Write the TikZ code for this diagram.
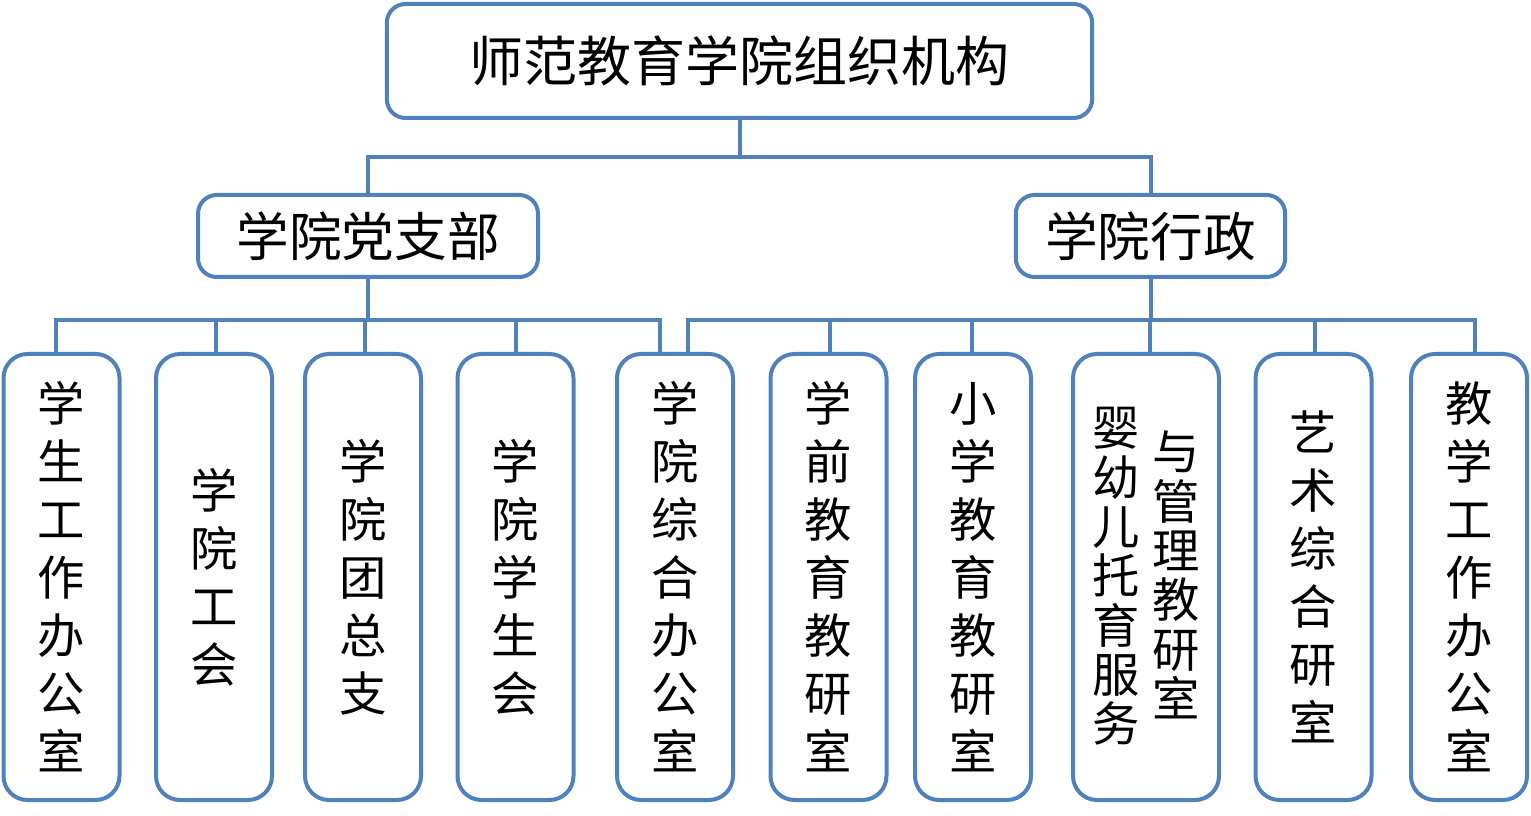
\documentclass[tikz,border=0pt]{standalone}
\usepackage{fontspec}
\newfontfamily\cjk{Noto Sans CJK SC}
\usetikzlibrary{positioning,calc}
\definecolor{orgblue}{RGB}{79,129,189}

\begin{document}
\begin{tikzpicture}[x=.75pt,y=-.75pt,
	box/.style={draw=orgblue, line width=3pt, rounded corners=14pt, fill=white, inner sep=0pt},
	unit/.style={box, rounded corners=18pt, minimum width=87pt, minimum height=334.5pt, align=center, font=\cjk\fontsize{35.5}{43.5}\selectfont},
	col/.style={align=center, inner sep=0pt, font=\cjk\fontsize{35.5}{37}\selectfont},
	link/.style={orgblue, line width=3pt}]
\useasboundingbox (0,0) rectangle (1531,816);
\node [box, minimum width=529pt, minimum height=85.5pt, font=\cjk\fontsize{40.5}{48}\selectfont] (top) at (739.5,61) {师范教育学院组织机构};
\node [box, minimum width=255pt, minimum height=61.5pt, font=\cjk\fontsize{39.5}{46}\selectfont] (party) at (368,236) {学院党支部};
\node [box, minimum width=202pt, minimum height=61.5pt, font=\cjk\fontsize{39.5}{46}\selectfont] (admin) at (1150.5,236) {学院行政};
\foreach \n/\x/\t in {b1/61.5/{学\\生\\工\\作\\办\\公\\室}, b2/214/{学\\院\\工\\会}, b3/363/{学\\院\\团\\总\\支},
	b4/515.5/{学\\院\\学\\生\\会}, b5/675/{学\\院\\综\\合\\办\\公\\室}, b6/828.5/{学\\前\\教\\育\\教\\研\\室},
	b7/973/{小\\学\\教\\育\\教\\研\\室}, b9/1313.5/{艺\\术\\综\\合\\研\\室}, b10/1469/{教\\学\\工\\作\\办\\公\\室}}
	\node [unit] (\n) at (\x,577) {\t};
\node [unit, minimum width=109.5pt] (b8) at (1146,577) {};
\node [col] (b8a) at (1116,576.5) {婴\\幼\\儿\\托\\育\\服\\务};
\node [col] (b8b) at (1176,575) {与\\管\\理\\教\\研\\室};
\coordinate (j0) at ($(top.south)+(0,37)$);
\coordinate (j1) at ($(party.south)+(0,41)$);
\coordinate (j2) at ($(admin.south)+(0,41)$);
\draw [link] (top.south) -- (j0);
\draw [link] (party.north) |- (j0) -| (admin.north);
\draw [link] (party.south) -- (j1);
\draw [link] (admin.south) -- (j2);
\foreach \n/\d in {b1/-5.5,b2/2,b3/2,b4/0.5,b5/-15}
	\draw [link] (j1) -| ($(\n.north)+(\d,0)$);
\foreach \n/\d in {b5/13,b6/1.5,b7/-1,b8/4,b9/1.5,b10/6}
	\draw [link] (j2) -| ($(\n.north)+(\d,0)$);
\end{tikzpicture}
\end{document}
